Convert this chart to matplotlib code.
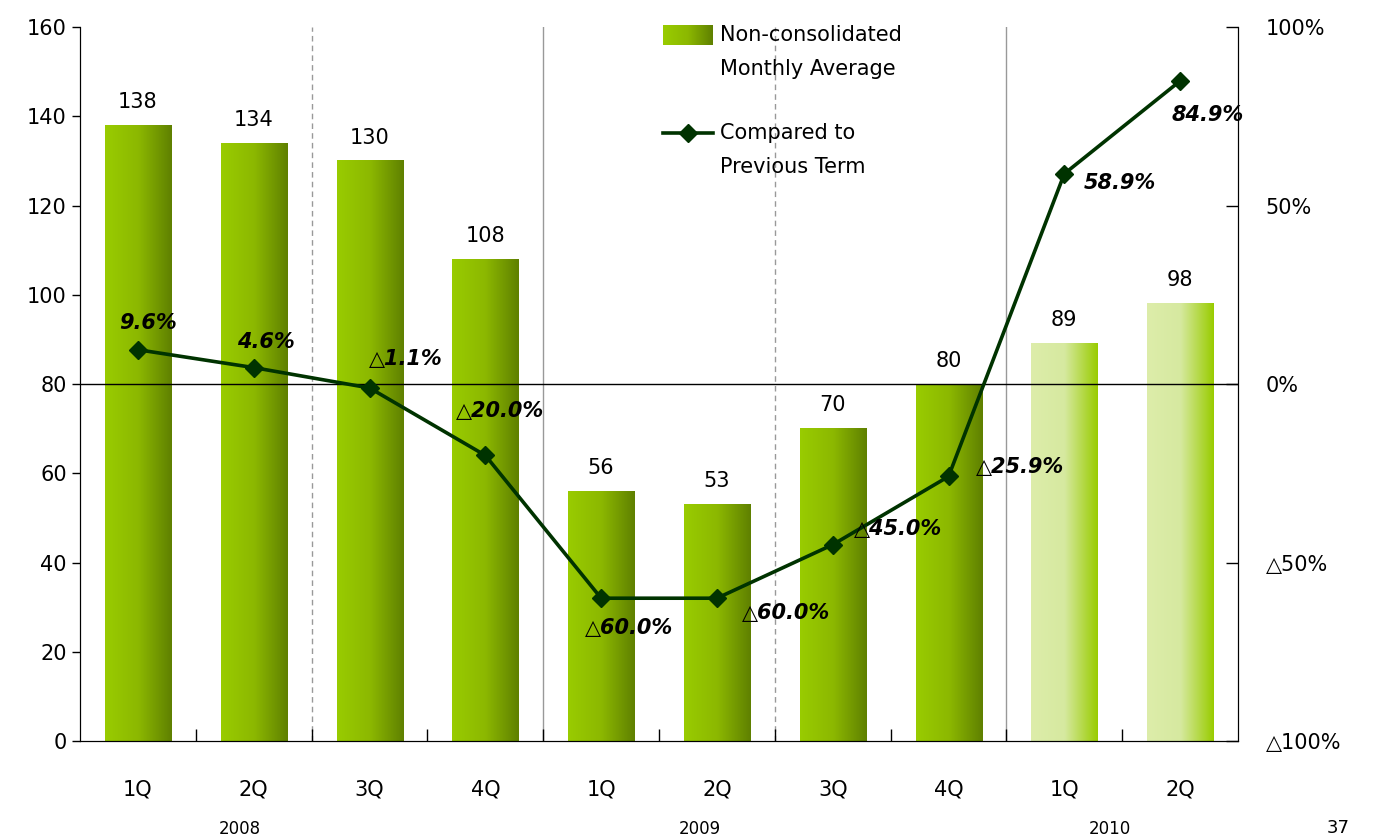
import numpy as np
import matplotlib
matplotlib.use('Agg')
import matplotlib.pyplot as plt
from matplotlib.colors import LinearSegmentedColormap
from matplotlib.lines import Line2D

plt.rcParams['font.family'] = ['DejaVu Sans', 'Noto Sans CJK JP']

# data
quarters = ['1Q', '2Q', '3Q', '4Q', '1Q', '2Q', '3Q', '4Q', '1Q', '2Q']
years = ['2008', '2009', '2010']
monthly_avg = [138, 134, 130, 108, 56, 53, 70, 80, 89, 98]
change_pct = [9.6, 4.6, -1.1, -20.0, -60.0, -60.0, -45.0, -25.9, 58.9, 84.9]
forecast = [False] * 8 + [True] * 2

# label offsets for the line values (pixels)
label_offsets = [(10, 27), (12, 26), (36, 29), (15, 44), (28, -30),
                 (69, -15), (65, 16), (72, 9), (56, -9), (28, -34)]

cmap_actual = LinearSegmentedColormap.from_list('act', ['#99cc00', '#8cb800', '#5f8000'])
cmap_fcst = LinearSegmentedColormap.from_list('fc', ['#ddedaa', '#d6e9a0', '#99cc00'])
line_color = '#003300'

fig = plt.figure(figsize=(13.73, 8.39), dpi=100)
ax = fig.add_axes([0.0583, 0.1168, 0.8434, 0.851])
ax2 = ax.twinx()

x = np.arange(len(quarters))
bars = ax.bar(x, monthly_avg, width=0.57, color='none', edgecolor='none', zorder=2)
grad = np.linspace(0, 1, 256).reshape(1, -1)
for rect, fc, val in zip(bars, forecast, monthly_avg):
    x0 = rect.get_x()
    ax.imshow(grad, extent=[x0, x0 + rect.get_width(), 0, rect.get_height()],
              aspect='auto', cmap=cmap_fcst if fc else cmap_actual, zorder=2)
    ax.text(rect.get_x() + rect.get_width() / 2, rect.get_height() + 3,
            str(val), ha='center', va='bottom', fontsize=15, zorder=5)

ax.set_xlim(-0.5, len(quarters) - 0.5)
ax.set_ylim(0, 160)
ax.set_yticks(range(0, 161, 20))
ax.tick_params(axis='y', labelsize=15, length=6, width=1)
ax.axhline(80, color='black', lw=1, zorder=3)

# separators
for xs, ls in [(1.5, (0, (4, 3))), (3.5, '-'), (5.5, (0, (4, 3))), (7.5, '-')]:
    ax.axvline(xs, color='#999999', lw=1, ls=ls, zorder=1)

ax.set_xticks(x)
ax.set_xticklabels(quarters, fontsize=15)
ax.tick_params(axis='x', which='major', length=0, pad=28)
ax.set_xticks(np.arange(0.5, len(quarters) - 1, 1), minor=True)
ax.tick_params(axis='x', which='minor', direction='in', length=9, width=1)

for yr, xp in zip(years, [0.88, 4.85, 8.39]):
    ax.text(xp, -0.123, yr, transform=ax.get_xaxis_transform(), ha='center',
            va='center', fontsize=12)

ax.spines['top'].set_visible(False)
ax2.spines['top'].set_visible(False)

# line on secondary axis
ax2.plot(x, change_pct, color=line_color, lw=2.6, marker='D', markersize=9,
         markerfacecolor=line_color, markeredgecolor=line_color, zorder=4)
ax2.set_ylim(-100, 100)
ax2.set_yticks([100, 50, 0, -50, -100])
ax2.set_yticklabels(['100%', '50%', '0%', '\u25b350%', '\u25b3100%'], fontsize=15)
ax2.tick_params(axis='y', direction='in', length=9, width=1, pad=20)

for xi, v, (dx, dy) in zip(x, change_pct, label_offsets):
    txt = f'{v:.1f}%' if v >= 0 else f'\u25b3{abs(v):.1f}%'
    ax2.annotate(txt, (xi, v), xytext=(dx, dy), textcoords='offset pixels',
                 ha='center', va='center', fontsize=15, style='italic',
                 fontweight='bold', zorder=6)

# legend drawn by hand
lax = fig.add_axes([663 / 1373, 1 - 45 / 839, 50 / 1373, 20 / 839])
lax.imshow(grad, aspect='auto', cmap=cmap_actual)
lax.axis('off')
fig.text(720 / 1373, 1 - 35 / 839, 'Non-consolidated', fontsize=15, va='center')
fig.text(720 / 1373, 1 - 69 / 839, 'Monthly Average', fontsize=15, va='center')
fig.lines.append(Line2D([663 / 1373, 713 / 1373], [1 - 133 / 839] * 2,
                        transform=fig.transFigure, color=line_color, lw=2.6))
fig.lines.append(Line2D([688 / 1373], [1 - 133 / 839], transform=fig.transFigure,
                        color=line_color, marker='D', markersize=9))
fig.text(720 / 1373, 1 - 133 / 839, 'Compared to', fontsize=15, va='center')
fig.text(720 / 1373, 1 - 167 / 839, 'Previous Term', fontsize=15, va='center')

fig.text(1327 / 1373, 0.002, '37', fontsize=13, va='bottom')

fig.savefig('out.png', dpi=100)
